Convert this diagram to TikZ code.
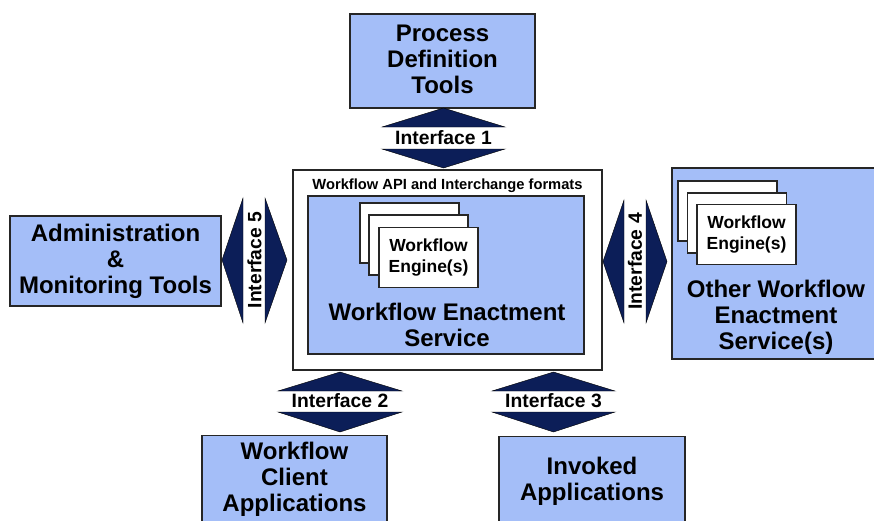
\documentclass[tikz,border=0pt]{standalone}
\usepackage{fontspec}
\setmainfont{Liberation Sans}
\usetikzlibrary{positioning}
\definecolor{wfblue}{RGB}{164,190,248}
\definecolor{wfnavy}{RGB}{12,30,88}
\tikzstyle{toolbox}   = [rectangle, draw=black!85, fill=wfblue, line width=1.2pt, inner sep=0pt]
\tikzstyle{bigtext}   = [align=center, inner sep=0pt, font=\fontsize{24}{26}\selectfont\bfseries]
\tikzstyle{enginebox} = [rectangle, draw=black!85, fill=white, line width=1.2pt, minimum width=99pt, minimum height=60pt, inner sep=0pt]
\tikzstyle{enginetext}= [align=center, inner sep=0pt, font=\fontsize{17.5}{21}\selectfont\bfseries]
\tikzstyle{iflabel}   = [inner sep=0pt, font=\fontsize{19.3}{21}\selectfont\bfseries]
\tikzstyle{tri}       = [fill=wfnavy, draw=black, line width=0.4pt]

\begin{document}
\begin{tikzpicture}[x=1pt, y=-1pt]
            \useasboundingbox (0,0) rectangle (874,520);

            % tools round the engine
            \node[toolbox, minimum width=185pt, minimum height=94pt] (pdt) at (442.5,61) {};
            \node[bigtext] (pdttxt) at (442.5,59) {Process\\Definition\\Tools};
            \node[toolbox, minimum width=211pt, minimum height=90pt] (adm) at (115.5,261) {};
            \node[bigtext] (admtxt) at (adm.center) {Administration\\\&\\Monitoring Tools};
            \node[toolbox, minimum width=185pt, minimum height=100pt, anchor=north] (client) at (294.5,435) {};
            \node[bigtext] (clienttxt) at (294.5,479) {Workflow\\Client\\Applications};
            \node[toolbox, minimum width=186pt, minimum height=100pt, anchor=north] (invoked) at (592,436) {};
            \node[bigtext] (invokedtxt) at (592,481) {Invoked\\Applications};

            % workflow enactment service
            \node[rectangle, draw=black!85, fill=white, line width=1.2pt, minimum width=309pt, minimum height=200pt] (api) at (447.5,270) {};
            \node[inner sep=0pt, font=\fontsize{14.7}{16}\selectfont\bfseries] (apitxt) at (447.5,186) {Workflow API and Interchange formats};
            \node[toolbox, minimum width=276pt, minimum height=158pt] (wes) at (446,275) {};
            \node[enginebox] (eng1) at (409.5,233) {};
            \node[enginebox] (eng2) at (418.5,245) {};
            \node[enginebox] (eng3) at (428.5,257.5) {};
            \node[enginetext] (engtxt) at (eng3.center) {Workflow\\Engine(s)};
            \node[bigtext] (westxt) at (447,325) {Workflow Enactment\\Service};

            % other enactment services
            \node[toolbox, minimum width=203pt, minimum height=191pt] (other) at (773.5,263.5) {};
            \node[enginebox] (oeng1) at (727.5,211) {};
            \node[enginebox] (oeng2) at (737,223) {};
            \node[enginebox] (oeng3) at (746.5,234.5) {};
            \node[enginetext] (oengtxt) at (oeng3.center) {Workflow\\Engine(s)};
            \node[bigtext] (othertxt) at (776,317) {Other Workflow\\Enactment\\Service(s)};

            % interfaces
            \node[iflabel] (if1) at (443.5,138) {Interface 1};
            \filldraw[tri] (443.5,108) -- (505,127) -- (382,127) -- cycle;
            \filldraw[tri] (443.5,168) -- (505,149) -- (382,149) -- cycle;

            \node[iflabel] (if2) at (340,401) {Interface 2};
            \filldraw[tri] (340,372) -- (402,391) -- (278,391) -- cycle;
            \filldraw[tri] (340,432) -- (402,412) -- (278,412) -- cycle;

            \node[iflabel] (if3) at (553.5,401) {Interface 3};
            \filldraw[tri] (553.5,372) -- (615,391) -- (492,391) -- cycle;
            \filldraw[tri] (553.5,432) -- (615,412) -- (492,412) -- cycle;

            \node[iflabel, rotate=90] (if5) at (254.5,260) {Interface 5};
            \filldraw[tri] (222,260) -- (243,198) -- (243,323) -- cycle;
            \filldraw[tri] (287,260) -- (265,198) -- (265,323) -- cycle;

            \node[iflabel, rotate=90] (if4) at (635,261.5) {Interface 4};
            \filldraw[tri] (603,261.5) -- (624,200) -- (624,323) -- cycle;
            \filldraw[tri] (667,261.5) -- (646,200) -- (646,323) -- cycle;
        \end{tikzpicture}
\end{document}
